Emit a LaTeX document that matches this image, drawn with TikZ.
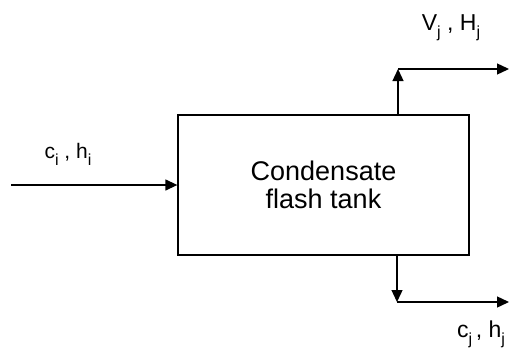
\documentclass[tikz,border=0pt]{standalone}
\usepackage{fontspec}
\setmainfont{Liberation Sans}
\usetikzlibrary{arrows.meta,positioning}

\newcommand{\lowsub}[1]{\raisebox{-7pt}{\fontsize{16}{16}\selectfont #1}}

\tikzset{
  flow/.style={line width=1.3pt,-{Triangle[length=12pt,width=11pt]}},
  streamlabel/.style={anchor=base,font=\fontsize{23}{26}\selectfont}
}

\begin{document}
\begin{tikzpicture}[x=1pt,y=-1pt]
    \useasboundingbox (0,0) rectangle (510,348);

    % Tank
    \node[draw,line width=1.3pt,minimum width=291pt,minimum height=140pt,align=center,
          font=\fontsize{27}{28}\selectfont] (tank) at (323.5,185) {Condensate\\flash tank};

    % Inlet stream
    \coordinate (feed) at (11,185);
    \draw[flow] (feed) -- (tank.west);
    \node[streamlabel,font=\fontsize{21}{24}\selectfont] (feedlbl) at (68,158) {c\lowsub{i} , h\lowsub{i}};

    % Vapour outlet
    \coordinate (vapbend) at (398,69);
    \coordinate (vapend) at (509,69);
    \draw[flow] (tank.north -| vapbend) -- (vapbend);
    \draw[flow] (vapbend) -- (vapend);
    \node[streamlabel] (vaplbl) at (451,30) {V\lowsub{j} , H\lowsub{j}};

    % Liquid outlet
    \coordinate (liqbend) at (397,302);
    \coordinate (liqend) at (509,302);
    \draw[flow] (tank.south -| liqbend) -- (liqbend);
    \draw[flow] (liqbend) -- (liqend);
    \node[streamlabel] (liqlbl) at (481,337) {c\lowsub{j}\,, h\lowsub{j}};
\end{tikzpicture}
\end{document}
